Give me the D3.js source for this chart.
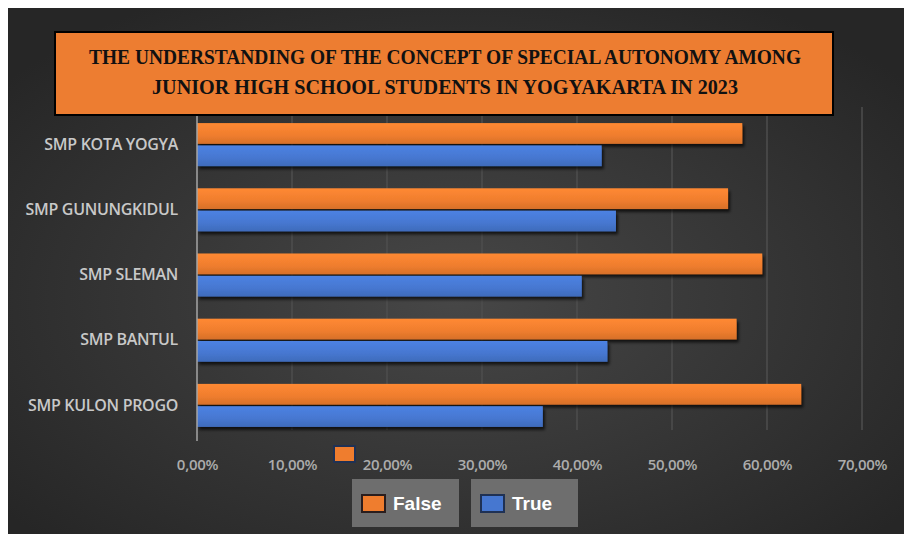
<!DOCTYPE html>
<html>
<head>
<meta charset="utf-8">
<script src="https://cdn.jsdelivr.net/npm/d3@7"></script>
<style>
  body { margin: 0; background: #fff; }
  svg { display: block; }
</style>
</head>
<body>
<svg id="chart" width="904" height="534"></svg>
<script>
// data
var categories = ["SMP KOTA YOGYA", "SMP GUNUNGKIDUL", "SMP SLEMAN", "SMP BANTUL", "SMP KULON PROGO"];
var series = ["False", "True"];
var falseValues = [0.574, 0.559, 0.595, 0.568, 0.636];
var trueValues = [0.426, 0.441, 0.405, 0.432, 0.364];
var xTicks = [0, 0.1, 0.2, 0.3, 0.4, 0.5, 0.6, 0.7];
var titleLines = ["THE UNDERSTANDING OF THE CONCEPT OF SPECIAL AUTONOMY AMONG",
                  "JUNIOR HIGH SCHOOL STUDENTS  IN YOGYAKARTA  IN 2023"];

var colors = {False: "#ef7d2e", True: "#4677d0"};

var svg = d3.select("#chart");
var defs = svg.append("defs");

var bg = defs.append("radialGradient").attr("id", "bg")
    .attr("cx", "50%").attr("cy", "55%").attr("r", "65%");
bg.append("stop").attr("offset", "0%").attr("stop-color", "#474747");
bg.append("stop").attr("offset", "100%").attr("stop-color", "#262626");

var shadow = defs.append("filter").attr("id", "shadow")
    .attr("x", "-5%").attr("y", "-30%").attr("width", "115%").attr("height", "170%");
shadow.append("feDropShadow").attr("dx", 2).attr("dy", 3)
    .attr("stdDeviation", 1.5).attr("flood-color", "#000").attr("flood-opacity", 0.7);

series.forEach(function(s) {
  var g = defs.append("linearGradient").attr("id", "grad" + s)
      .attr("x1", 0).attr("y1", 0).attr("x2", 0).attr("y2", 1);
  g.append("stop").attr("offset", "0%").attr("stop-color", d3.color(colors[s]).brighter(0.25));
  g.append("stop").attr("offset", "60%").attr("stop-color", colors[s]);
  g.append("stop").attr("offset", "100%").attr("stop-color", d3.color(colors[s]).darker(0.3));
});

// chart background
svg.append("rect").attr("x", 8).attr("y", 8).attr("width", 896).attr("height", 526)
   .attr("fill", "url(#bg)");

var x = d3.scaleLinear().domain([0, 0.7]).range([197, 862]);
var y = d3.scaleBand().domain(categories).range([112, 438])
    .paddingInner(0.34).paddingOuter(0.17);
var y1 = d3.scaleBand().domain(series).range([0, y.bandwidth()]).paddingInner(0.07);

// gridlines
svg.append("g").selectAll("line")
   .data(xTicks.slice(1))
   .enter().append("line")
   .attr("x1", function(d) { return x(d); })
   .attr("x2", function(d) { return x(d); })
   .attr("y1", 107).attr("y2", 430)
   .attr("stroke", "#4e4e4e").attr("stroke-width", 1.5);

// bars
var rows = categories.map(function(c, i) {
  return {cat: c, values: [{s: "False", v: falseValues[i]}, {s: "True", v: trueValues[i]}]};
});

svg.append("g").selectAll("g")
   .data(rows)
   .enter().append("g")
   .attr("transform", function(d) { return "translate(0," + y(d.cat) + ")"; })
   .selectAll("rect")
   .data(function(d) { return d.values; })
   .enter().append("rect")
   .attr("x", x(0))
   .attr("y", function(d) { return y1(d.s); })
   .attr("width", function(d) { return x(d.v) - x(0); })
   .attr("height", y1.bandwidth())
   .attr("fill", function(d) { return "url(#grad" + d.s + ")"; })
   .attr("filter", "url(#shadow)");

// axes
var locale = d3.formatLocale({decimal: ",", thousands: ".", grouping: [3], currency: ["", "%"]});
var xAxis = d3.axisBottom(x).tickValues(xTicks).tickSize(0).tickPadding(21)
    .tickFormat(locale.format(".2%"));
var gx = svg.append("g").attr("transform", "translate(0,438)").call(xAxis);
gx.select(".domain").remove();
gx.selectAll("text").attr("fill", "#acacac")
  .style("font-family", "'Open Sans', sans-serif").style("font-size", "15px")
  .style("font-weight", "600").style("letter-spacing", "-0.3px");

var yAxis = d3.axisLeft(y).tickSize(0).tickPadding(19);
var gy = svg.append("g").attr("transform", "translate(197,0)").call(yAxis);
gy.select(".domain").remove();
gy.selectAll("text").attr("fill", "#c8c8c8")
  .style("font-family", "'Open Sans', sans-serif").style("font-size", "16px")
  .style("font-weight", "600").style("letter-spacing", "-0.3px");

svg.append("line").attr("x1", x(0)).attr("x2", x(0)).attr("y1", 112).attr("y2", 441)
   .attr("stroke", "#a6a6a6").attr("stroke-width", 1.5);

// title box
svg.append("rect").attr("x", 55).attr("y", 32).attr("width", 778).attr("height", 83)
   .attr("fill", "#ed7d31").attr("stroke", "#000").attr("stroke-width", 2);
var titleWidths = [712, 586];
svg.append("g").selectAll("text")
   .data(titleLines)
   .enter().append("text")
   .attr("x", 445)
   .attr("y", function(d, i) { return 64 + i * 30; })
   .attr("text-anchor", "middle")
   .attr("textLength", function(d, i) { return titleWidths[i]; })
   .attr("lengthAdjust", "spacingAndGlyphs")
   .style("font-family", "'Liberation Serif', serif")
   .style("font-weight", "bold")
   .style("font-size", "20px")
   .attr("fill", "#111")
   .text(function(d) { return d; });

// stray marker left in the picture
svg.append("rect").attr("x", 334).attr("y", 446).attr("width", 21).attr("height", 16)
   .attr("fill", "#ef7d2e").attr("stroke", "#1f3154").attr("stroke-width", 2);

// legend
var legend = svg.append("g").selectAll("g")
   .data(series)
   .enter().append("g")
   .attr("transform", function(d, i) { return "translate(" + (352 + i * 119) + ",479)"; });
legend.append("rect").attr("width", 107).attr("height", 48).attr("fill", "#6e6e6e");
legend.append("rect").attr("x", 10).attr("y", 16).attr("width", 23).attr("height", 17)
   .attr("fill", function(d) { return colors[d]; })
   .attr("stroke", function(d) { return d === "False" ? "#2a1d1d" : "#1f3154"; })
   .attr("stroke-width", 2);
legend.append("text").attr("x", 41).attr("y", 31)
   .style("font-family", "'Liberation Sans', sans-serif")
   .style("font-weight", "bold").style("font-size", "19px")
   .attr("fill", "#fff")
   .text(function(d) { return d; });
</script>
</body>
</html>
